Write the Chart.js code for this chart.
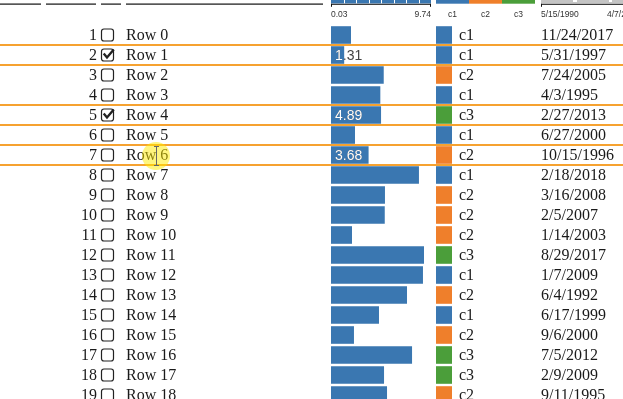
<!DOCTYPE html>
<html>
<head>
<meta charset="utf-8">
<script src="https://cdn.jsdelivr.net/npm/chart.js@4"></script>
<style>
html, body { margin: 0; padding: 0; width: 623px; height: 399px; overflow: hidden; background: #fff; }
#wrap { position: relative; width: 623px; height: 425px; }
canvas { position: absolute; top: 0; }
#table { left: 0; }
#cells { left: 436px; }
</style>
</head>
<body>
<div id="wrap">
  <canvas id="table" width="623" height="425"></canvas>
  <canvas id="cells" width="16" height="425"></canvas>
</div>
<script>
// Données du tableau
const rows = ['Row 0', 'Row 1', 'Row 2', 'Row 3', 'Row 4', 'Row 5', 'Row 6', 'Row 7', 'Row 8', 'Row 9',
    'Row 10', 'Row 11', 'Row 12', 'Row 13', 'Row 14', 'Row 15', 'Row 16', 'Row 17', 'Row 18'];
const values = [1.97, 1.31, 5.15, 4.82, 4.89, 2.36, 3.68, 8.57, 5.27, 5.25,
    2.07, 9.06, 8.96, 7.41, 4.69, 2.26, 7.90, 5.18, 5.47];
const cats = ['c1', 'c1', 'c2', 'c1', 'c3', 'c1', 'c2', 'c1', 'c2', 'c2',
    'c2', 'c3', 'c1', 'c2', 'c1', 'c2', 'c3', 'c3', 'c2'];
const dates = ['11/24/2017', '5/31/1997', '7/24/2005', '4/3/1995', '2/27/2013', '6/27/2000', '10/15/1996',
    '2/18/2018', '3/16/2008', '2/5/2007', '1/14/2003', '8/29/2017', '1/7/2009', '6/4/1992',
    '6/17/1999', '9/6/2000', '7/5/2012', '2/9/2009', '9/11/1995'];

const catNames = ['c1', 'c2', 'c3'];
const numTicks = ['0.03', '9.74'];
const dateTicks = ['5/15/1990', '4/7/2019'];
const valueMin = 0.03;
const valueMax = 9.74;

const checkedRows = [1, 4];
const hoverRow = 6;

const blue = '#3a77b1';
const catColors = { c1: '#3a77b1', c2: '#ef7f2b', c3: '#4b9e3a' };
const orange = '#f6a230';
const serif = '16px "Liberation Serif", "Times New Roman", serif';
const small = '8.5px "Liberation Sans", Arial, sans-serif';

function drawCheckbox(ctx, x, cy, checked) {
    ctx.save();
    ctx.strokeStyle = '#222';
    ctx.lineWidth = 1.2;
    ctx.beginPath();
    ctx.roundRect(x + 0.5, cy - 6, 12, 12, 2.5);
    ctx.stroke();
    if (checked) {
        ctx.lineWidth = 2.4;
        ctx.lineCap = 'square';
        ctx.beginPath();
        ctx.moveTo(x + 3.5, cy - 0.5);
        ctx.lineTo(x + 6, cy + 2.5);
        ctx.lineTo(x + 12, cy - 4.5);
        ctx.stroke();
    }
    ctx.restore();
}

const tablePlugin = {
    id: 'tablePlugin',
    afterDraw(chart) {
        const ctx = chart.ctx;
        const y = chart.scales.y;
        const x = chart.scales.x;
        const bars = chart.getDatasetMeta(0).data;
        ctx.save();

        // En-têtes des colonnes de gauche
        ctx.fillStyle = '#111';
        [[0, 41], [46, 96], [101, 121], [126, 323]].forEach(seg => ctx.fillRect(seg[0], 3.5, seg[1] - seg[0], 1.2));

        // En-tête numérique : histogramme + axe
        const x0 = x.getPixelForValue(valueMin);
        const x1 = x.getPixelForValue(valueMax);
        ctx.fillStyle = blue;
        ctx.fillRect(x0, 0, x1 - x0, 3.5);
        ctx.fillStyle = '#fff';
        for (let k = 1; k < 8; k++) {
            ctx.fillRect(Math.round(x0 + k * (x1 - x0) / 8), 0, 1, 3.5);
        }
        ctx.fillStyle = '#111';
        ctx.fillRect(x0, 3.8, x1 - x0, 1);
        ctx.fillRect(x0, 3.8, 1, 3);
        ctx.fillRect(x1 - 1, 3.8, 1, 3);
        ctx.font = small;
        ctx.fillStyle = '#333';
        ctx.textBaseline = 'middle';
        ctx.textAlign = 'left';
        ctx.fillText(numTicks[0], x0, 14.5);
        ctx.textAlign = 'right';
        ctx.fillText(numTicks[1], x1, 14.5);

        // En-tête catégoriel
        const cx0 = 436, cw = 33;
        catNames.forEach((c, k) => {
            ctx.fillStyle = catColors[c];
            ctx.fillRect(cx0 + k * cw, 0, cw, 3.7);
            ctx.fillStyle = '#333';
            ctx.textAlign = 'center';
            ctx.fillText(c, cx0 + k * cw + cw / 2, 14.5);
        });

        // En-tête des dates
        ctx.fillStyle = '#c4c4c4';
        ctx.fillRect(541, 0, 82, 3.5);
        ctx.fillStyle = '#fff';
        ctx.fillRect(573, 0, 4, 2);
        ctx.fillRect(609, 0, 3, 2);
        ctx.fillStyle = '#111';
        ctx.fillRect(541, 3.8, 82, 1);
        ctx.fillRect(541, 3.8, 1, 3);
        ctx.fillStyle = '#333';
        ctx.textAlign = 'left';
        ctx.fillText(dateTicks[0], 541, 14.5);
        ctx.fillText(dateTicks[1], 607, 14.5);

        // Lignes du tableau
        rows.forEach((label, i) => {
            const cy = y.getPixelForValue(i);
            ctx.font = serif;
            ctx.fillStyle = '#1a1a1a';
            ctx.textBaseline = 'middle';
            ctx.textAlign = 'right';
            ctx.fillText(String(i + 1), 97, cy + 1);
            ctx.textAlign = 'left';
            ctx.fillText(label, 126, cy + 1);
            ctx.fillText(cats[i], 459, cy + 1);
            ctx.fillText(dates[i], 541, cy + 1);
            drawCheckbox(ctx, 101, cy, checkedRows.includes(i));
        });

        // Valeurs affichées sur les barres sélectionnées
        const shown = checkedRows.concat([hoverRow]);
        shown.forEach(i => {
            const bar = bars[i];
            const txt = values[i].toFixed(2);
            const top = bar.y - bar.height / 2;
            ctx.font = '14px "Liberation Sans", Arial, sans-serif';
            ctx.textAlign = 'left';
            ctx.textBaseline = 'middle';
            ctx.fillStyle = '#444';
            ctx.fillText(txt, bar.base + 4, bar.y + 1);
            ctx.save();
            ctx.beginPath();
            ctx.rect(bar.base, top, bar.x - bar.base, bar.height);
            ctx.clip();
            ctx.fillStyle = '#fff';
            ctx.fillText(txt, bar.base + 4, bar.y + 1);
            ctx.restore();
        });

        // Bordures orange des lignes sélectionnées
        ctx.strokeStyle = orange;
        ctx.lineWidth = 2;
        shown.forEach(i => {
            const cy = y.getPixelForValue(i);
            [cy - 10, cy + 10].forEach(ly => {
                ctx.beginPath();
                ctx.moveTo(0, ly);
                ctx.lineTo(chart.width, ly);
                ctx.stroke();
            });
        });

        // Curseur de la souris
        const hy = y.getPixelForValue(hoverRow);
        ctx.fillStyle = 'rgba(255, 236, 0, 0.5)';
        ctx.beginPath();
        ctx.arc(156, hy + 1, 14, 0, Math.PI * 2);
        ctx.fill();
        ctx.strokeStyle = '#666';
        ctx.lineWidth = 1;
        ctx.beginPath();
        ctx.moveTo(156.5, hy - 8);
        ctx.lineTo(156.5, hy + 10);
        ctx.moveTo(154, hy - 8.5);
        ctx.lineTo(159, hy - 8.5);
        ctx.moveTo(154, hy + 10.5);
        ctx.lineTo(159, hy + 10.5);
        ctx.stroke();

        ctx.restore();
    }
};

// Graphique principal : barres numériques
new Chart(document.getElementById('table'), {
    type: 'bar',
    data: {
        labels: rows,
        datasets: [{
            data: values.map(v => [valueMin, v]),
            backgroundColor: blue,
            barPercentage: 1,
            categoryPercentage: 0.88,
        }],
    },
    options: {
        indexAxis: 'y',
        responsive: false,
        animation: false,
        layout: { padding: { left: 331, right: 192, top: 25, bottom: 20 } },
        plugins: { legend: { display: false }, tooltip: { enabled: false } },
        scales: {
            x: { display: false, min: valueMin, max: valueMax },
            y: { display: false },
        },
    },
    plugins: [tablePlugin],
});

// Cellules de couleur des catégories
new Chart(document.getElementById('cells'), {
    type: 'bar',
    data: {
        labels: rows,
        datasets: [{
            data: cats.map(() => 1),
            backgroundColor: cats.map(c => catColors[c]),
            barPercentage: 1,
            categoryPercentage: 0.88,
        }],
    },
    options: {
        indexAxis: 'y',
        responsive: false,
        animation: false,
        layout: { padding: { left: 0, right: 0, top: 25, bottom: 20 } },
        plugins: { legend: { display: false }, tooltip: { enabled: false } },
        scales: {
            x: { display: false, min: 0, max: 1 },
            y: { display: false },
        },
    },
});
</script>
</body>
</html>
